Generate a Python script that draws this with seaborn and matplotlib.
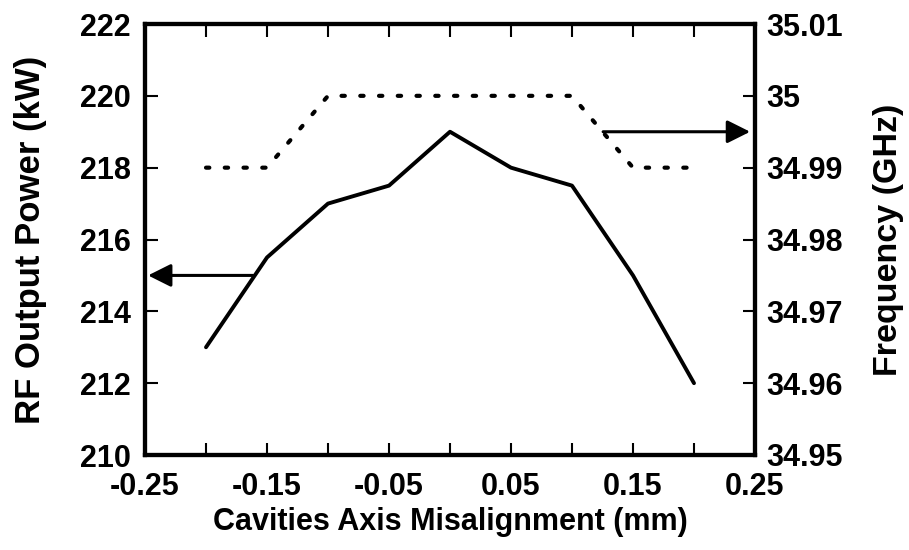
import matplotlib
matplotlib.use("Agg")
import matplotlib.pyplot as plt
import seaborn as sns
import pandas as pd
import numpy as np

# data
misalignment = [-0.2, -0.15, -0.1, -0.05, 0.0, 0.05, 0.1, 0.15, 0.2]
power_kw = [213, 215.5, 217, 217.5, 219, 218, 217.5, 215, 212]
freq_ghz = [34.99, 34.99, 35.0, 35.0, 35.0, 35.0, 35.0, 34.99, 34.99]
x_ticks = [-0.25, -0.2, -0.15, -0.1, -0.05, 0.0, 0.05, 0.1, 0.15, 0.2, 0.25]
x_labels = ["-0.25", "", "-0.15", "", "-0.05", "", "0.05", "", "0.15", "", "0.25"]
power_ticks = [210, 212, 214, 216, 218, 220, 222]
freq_ticks = [34.95, 34.96, 34.97, 34.98, 34.99, 35.0, 35.01]
freq_labels = ["34.95", "34.96", "34.97", "34.98", "34.99", "35", "35.01"]

sns.set_style("white")
plt.rcParams['font.family'] = ['Liberation Sans', 'DejaVu Sans']
plt.rcParams['font.weight'] = 'bold'
plt.rcParams['text.color'] = 'black'
plt.rcParams['axes.labelcolor'] = 'black'
plt.rcParams['xtick.color'] = 'black'
plt.rcParams['ytick.color'] = 'black'

df = pd.DataFrame({"x": misalignment, "p": power_kw, "f": freq_ghz})

fig = plt.figure(figsize=(9.09, 5.5), dpi=100)
ax = fig.add_axes([145/909, 1 - 455/550, 610/909, 431/550])
ax2 = ax.twinx()

sns.lineplot(data=df, x="x", y="p", ax=ax, color="black", linewidth=2.8)
sns.lineplot(data=df, x="x", y="f", ax=ax2, color="black", linewidth=3.0)
dl = ax2.lines[0]
dl.set_dashes([0.8, 3.7])
dl.set_dash_capstyle('round')

ax.set_xlim(-0.25, 0.25)
ax.set_ylim(210, 222)
ax2.set_ylim(34.95, 35.01)

fs = 22
ax.set_xticks(x_ticks)
ax.set_xticklabels(x_labels, fontsize=fs, fontweight='bold')
ax.set_yticks(power_ticks)
ax.set_yticklabels([str(t) for t in power_ticks], fontsize=fs, fontweight='bold')
ax2.set_yticks(freq_ticks)
ax2.set_yticklabels(freq_labels, fontsize=fs, fontweight='bold')

ax.set_xlabel("Cavities Axis Misalignment (mm)", fontsize=fs, fontweight='bold', labelpad=4)
ax.set_ylabel("RF Output Power (kW)", fontsize=25, fontweight='bold', labelpad=24)
ax2.set_ylabel("Frequency (GHz)", fontsize=24.5, fontweight='bold', labelpad=22)

ax.tick_params(axis='x', direction='in', length=9, width=1.5, top=True, bottom=True, pad=12)
ax.tick_params(axis='y', direction='in', length=9, width=1.5, left=True, right=False, pad=10)
ax2.tick_params(axis='y', direction='in', length=9, width=1.5, right=True, left=False, pad=8)

for a in (ax, ax2):
    for s in a.spines.values():
        s.set_linewidth(3)
        s.set_color("black")
        s.set_visible(True)

ax.annotate("", xy=(-0.2475, 215), xytext=(-0.1615, 215),
            arrowprops=dict(arrowstyle="-|>,head_length=1.4,head_width=0.7",
                            color="black", lw=2.2, shrinkA=0, shrinkB=0))
ax2.annotate("", xy=(0.246, 34.995), xytext=(0.1255, 34.995),
             arrowprops=dict(arrowstyle="-|>,head_length=1.4,head_width=0.7",
                             color="black", lw=2.2, shrinkA=0, shrinkB=0))

fig.savefig("out.png", dpi=100)
